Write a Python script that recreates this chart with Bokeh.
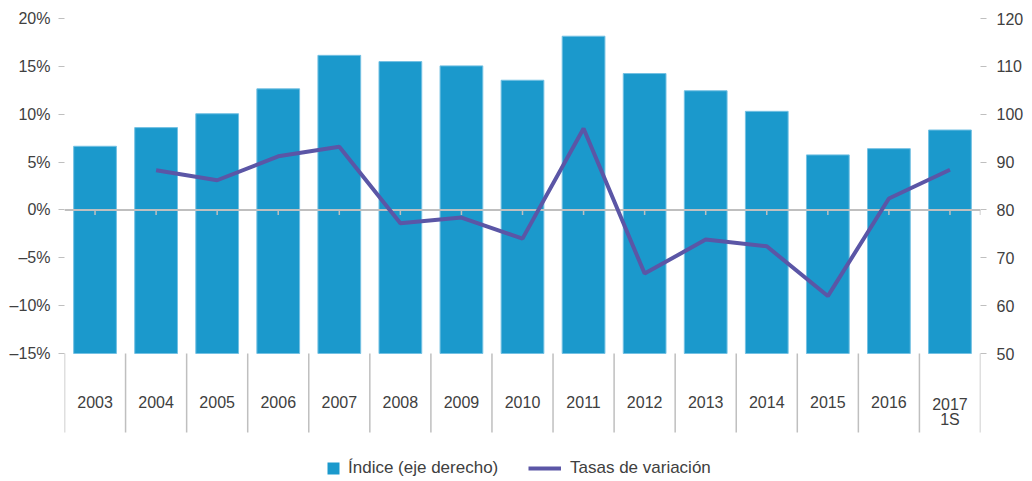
from bokeh.plotting import figure
from bokeh.models import Range1d, LinearAxis, FixedTicker, Legend, LegendItem, ColumnDataSource
from bokeh.core.properties import value
from bokeh.embed import file_html
from bokeh.resources import INLINE

years = ["2003", "2004", "2005", "2006", "2007", "2008", "2009", "2010",
         "2011", "2012", "2013", "2014", "2015", "2016", "2017\n1S"]
indice = [93.3, 97.2, 100.1, 105.3, 112.3, 111.0, 110.1, 107.1,
          116.3, 108.5, 104.9, 100.6, 91.5, 92.8, 96.7]
tasas = [None, 4.15, 3.1, 5.6, 6.6, -1.4, -0.8, -3.0,
         8.5, -6.65, -3.1, -3.8, -9.0, 1.2, 4.2]
left_ticks = [-15, -10, -5, 0, 5, 10, 15, 20]
right_ticks = [50, 60, 70, 80, 90, 100, 110, 120]

FONT = "Liberation Sans"
TXT = "#404040"
GRAY = "#bfbfbf"
BAR = "#1b99cc"
LINE = "#5b56a6"

# layout (pixels)
W, H = 1032, 481
FL, FR, FT = 64, 980, 18          # frame left / right / top
AXIS_PX = 335                     # height of the -15%..20% band
ppu = AXIS_PX / (left_ticks[-1] - left_ticks[0])   # px per percentage point
frame_h = H - FT
y_bot = left_ticks[-1] - frame_h / ppu
r_scale = (right_ticks[-1] - right_ticks[0]) / (left_ticks[-1] - left_ticks[0])
r_bot = right_ticks[-1] - frame_h / ppu * r_scale

n = len(years)
centers = [i + 0.5 for i in range(n)]
bounds = list(range(n + 1))
base = left_ticks[0]

p = figure(width=W, height=H, output_backend="svg", toolbar_location=None,
           x_range=Range1d(0, n), y_range=Range1d(y_bot, left_ticks[-1]),
           x_axis_type=None,
           min_border_left=FL, min_border_right=W - FR, min_border_top=FT,
           min_border_bottom=0)
p.outline_line_color = None
p.ygrid.visible = False
p.background_fill_color = "white"
p.border_fill_color = "white"

p.extra_y_ranges = {"idx": Range1d(r_bot, right_ticks[-1])}

bar_src = ColumnDataSource(dict(x=centers, top=indice))
p.vbar(x="x", top="top", bottom=right_ticks[0], width=0.7, source=bar_src,
       y_range_name="idx", fill_color=BAR, line_color="#74c1e3", line_width=1)

# zero line with small ticks at the category centres
p.segment(x0=[0], x1=[n], y0=[0], y1=[0], line_color=GRAY, line_width=2)
p.segment(x0=centers + [n], x1=centers + [n], y0=0, y1=-5 / ppu,
          line_color=GRAY, line_width=1.5)

lx = [c for c, t in zip(centers, tasas) if t is not None]
ly = [t for t in tasas if t is not None]
line = p.line(lx, ly, line_color=LINE, line_width=4)

# category "axis" below the band
p.segment(x0=bounds, x1=bounds, y0=base, y1=base - 79 / ppu,
          line_color=GRAY, line_width=1.5)
p.text(x=centers, y=base - 42 / ppu, text=years, text_align="center",
       text_baseline="top", text_font=value(FONT), text_font_size="16px",
       text_color=TXT, text_line_height=0.92)

# left axis
ya = p.yaxis[0]
ya.ticker = FixedTicker(ticks=left_ticks)
ya.major_label_overrides = {t: (f"\u2013{abs(t)}%" if t < 0 else f"{t}%") for t in left_ticks}
ya.axis_line_color = None
ya.major_tick_in = 0
ya.major_tick_out = 6
ya.major_tick_line_color = GRAY
ya.minor_tick_line_color = None
ya.major_label_standoff = 8
ya.major_label_text_font = FONT
ya.major_label_text_font_size = "16px"
ya.major_label_text_color = TXT

# right axis
ra = LinearAxis(y_range_name="idx", ticker=FixedTicker(ticks=right_ticks))
ra.axis_line_color = None
ra.major_tick_in = 0
ra.major_tick_out = 6
ra.major_tick_line_color = GRAY
ra.minor_tick_line_color = None
ra.major_label_standoff = 10
ra.major_label_text_font = FONT
ra.major_label_text_font_size = "16px"
ra.major_label_text_color = TXT
p.add_layout(ra, "right")

# legends (legend-only square renderer with an undrawable point)
sq = p.scatter(x=[float("nan")], y=[float("nan")], marker="square", size=12,
               fill_color=BAR, line_color=None)
common = dict(orientation="horizontal", padding=0, margin=0, spacing=0,
              border_line_color=None, background_fill_alpha=0,
              label_text_font=FONT, label_text_font_size="17px",
              label_text_color=TXT, label_height=30, glyph_height=30)
leg1 = Legend(items=[LegendItem(label="Índice (eje derecho)", renderers=[sq])],
              location=(254, -2), glyph_width=30, label_standoff=0, **common)
leg2 = Legend(items=[LegendItem(label="Tasas de variación", renderers=[line])],
              location=(464, -2), glyph_width=33, label_standoff=9, **common)
p.add_layout(leg1, "center")
p.add_layout(leg2, "center")

open("out.html", "w").write(file_html(p, INLINE))
